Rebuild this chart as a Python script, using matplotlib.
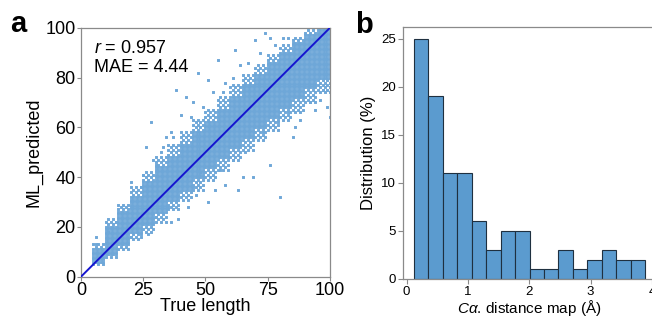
import matplotlib
matplotlib.use("Agg")
import matplotlib.pyplot as plt
import numpy as np

plt.rcParams['font.family'] = ['Liberation Sans', 'DejaVu Sans']
plt.rcParams['mathtext.fontset'] = 'custom'
plt.rcParams['mathtext.rm'] = 'Liberation Sans'
plt.rcParams['mathtext.it'] = 'Liberation Sans:italic'

# ---------------- Panel a data ----------------
# Dense core of the scatter, read per 5-unit bin of true length
core_bin_start = [5, 10, 15, 20, 25, 30, 35, 40, 45, 50, 55, 60, 65, 70, 75, 80, 85, 90, 95]
core_low = [6, 9, 13, 18, 21, 26, 31, 35, 40, 44, 48, 52, 56, 60, 64, 68, 72, 76, 80]
core_high = [11, 20, 26, 32, 38, 44, 48, 53, 58, 62, 67, 72, 77, 81, 86, 90, 94, 97, 99]
# Sparser fringe around the core (outer extent of the cloud), same bins
fringe_low = [5, 8, 11, 15, 18, 22, 27, 31, 35, 39, 43, 47, 51, 55, 59, 63, 66, 70, 74]
fringe_high = [13, 23, 29, 36, 42, 48, 53, 58, 63, 67, 72, 77, 81, 85, 89, 93, 96, 99, 99]

# Sparse points outside the cloud (true, predicted)
outlier_true = [6, 6, 11, 14, 20, 25, 28, 26, 32, 36, 38, 40, 42, 45, 47, 51, 55, 57, 62, 64,
                70, 74, 76, 81, 34, 24, 29, 30, 33, 37, 44, 49, 53, 58, 61, 67, 72, 78, 83,
                27, 36, 39, 43, 51, 54, 58, 63, 65, 69, 76, 80, 85, 86, 94, 99, 100, 96,
                61, 48, 45, 30, 35, 24, 20, 88, 92, 97, 90, 83, 79, 73, 66, 56, 46]
outlier_pred = [16, 13, 18, 22, 38, 41, 62, 52, 50, 58, 75, 65, 72, 70, 82, 79, 87, 74, 91, 85,
                95, 98, 96, 96, 56, 36, 47, 45, 52, 56, 64, 68, 74, 78, 80, 86, 90, 93, 96,
                17, 22, 23, 28, 30, 35, 37, 35, 40, 40, 45, 32, 56, 60, 67, 68, 64, 71,
                47, 42, 36, 24, 28, 17, 16, 63, 70, 75, 72, 66, 62, 58, 50, 43, 33]

r_text = "$r$ = 0.957"
mae_text = "MAE = 4.44"

# ---------------- Panel b data ----------------
bin_left = 0.119
bin_width = 0.2356
dist_percent = [25, 19, 11, 11, 6, 3, 5, 5, 1, 1, 3, 1, 2, 3, 2, 2]

# ---------------- Build scatter points from table ----------------
xs, ys = [], []
for b0, lo, hi, flo, fhi in zip(core_bin_start, core_low, core_high, fringe_low, fringe_high):
    for x in range(b0, b0 + 5 + (1 if b0 == 95 else 0)):
        for y in range(lo, hi + 1):
            xs.append(x)
            ys.append(y)
        # fringe: every other cell
        for y in list(range(flo, lo)) + list(range(hi + 1, fhi + 1)):
            if (x + y) % 2 == 0 and y <= 100:
                xs.append(x)
                ys.append(y)
xs += outlier_true
ys += outlier_pred

fig = plt.figure(figsize=(6.52, 3.2), dpi=100)

spine_col = '#8a8a8a'

# Panel a
ax1 = fig.add_axes([0.1242, 0.1353, 0.3819, 0.778])
sc = ax1.scatter(xs, ys, marker='s', s=4.4, color='#6ea7d8', linewidths=0, zorder=2)
sc.set_snap(False)
ax1.plot([0, 100], [0, 100], color='#1515d0', lw=1.4, zorder=3)
ax1.set_xlim(0, 100)
ax1.set_ylim(0, 100)
ax1.set_xticks([0, 25, 50, 75, 100])
ax1.set_yticks([0, 20, 40, 60, 80, 100])
ax1.tick_params(labelsize=13, length=3, width=0.8, pad=1, color=spine_col)
for s in ax1.spines.values():
    s.set_color(spine_col)
    s.set_linewidth(0.9)
ax1.set_xlabel("True length", fontsize=13, labelpad=-1)
ax1.set_ylabel("ML_predicted", fontsize=13, labelpad=2)
ax1.text(5.2, 91.5, r_text, fontsize=13, va='center', ha='left')
ax1.text(5.2, 84.0, mae_text, fontsize=13, va='center', ha='left')

# Panel b
ax2 = fig.add_axes([403 / 652, 1 - 278.7 / 320, 252 / 652, 252 / 320])
lefts = [bin_left + i * bin_width for i in range(len(dist_percent))]
ax2.bar(lefts, dist_percent, width=bin_width, align='edge', color='#5b9bcf',
        edgecolor='#1f3040', linewidth=0.8)
ax2.set_xlim(-0.06, 4.05)
ax2.set_ylim(0, 26.25)
ax2.set_xticks([0, 1, 2, 3, 4])
ax2.set_yticks([0, 5, 10, 15, 20, 25])
ax2.tick_params(labelsize=9.5, length=3.5, width=0.8, pad=1.5, color=spine_col)
for s in ax2.spines.values():
    s.set_color(spine_col)
    s.set_linewidth(0.9)
ax2.set_xlabel(r"$C\alpha$. distance map (Å)", fontsize=11, labelpad=0)
ax2.set_ylabel("Distribution (%)", fontsize=12, labelpad=4)

fig.text(10 / 652, 1 - 32 / 320, "a", fontsize=21, fontweight='bold', ha='left', va='baseline')
fig.text(355 / 652, 1 - 33 / 320, "b", fontsize=21, fontweight='bold', ha='left', va='baseline')

fig.savefig("out.png", dpi=100)
